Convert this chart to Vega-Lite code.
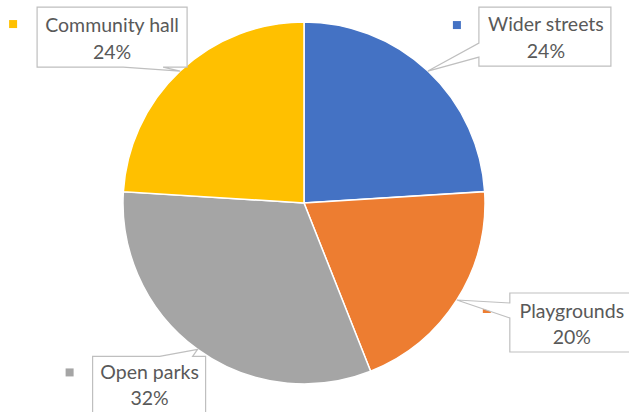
{
  "$schema": "https://vega.github.io/schema/vega-lite/v6.json",
  "width": 608,
  "height": 406,
  "autosize": {"type": "none"},
  "padding": {"left": 0, "top": 0, "right": 21, "bottom": 6},
  "background": "white",
  "config": {"view": {"stroke": null}},
  "data": {
    "values": [
      {"category": "Wider streets", "share": 0.24, "order": 1},
      {"category": "Playgrounds", "share": 0.20, "order": 2},
      {"category": "Open parks", "share": 0.32, "order": 3},
      {"category": "Community hall", "share": 0.24, "order": 4}
    ]
  },
  "transform": [
    {"window": [{"op": "sum", "field": "share", "as": "cum"}], "sort": [{"field": "order"}], "frame": [null, 0]},
    {"calculate": "2*PI*(datum.cum - datum.share/2)", "as": "mid"},
    {"calculate": "sin(datum.mid)", "as": "ax"},
    {"calculate": "cos(datum.mid)", "as": "ay"},
    {"calculate": "[datum.category, format(datum.share, '.0%')]", "as": "label"}
  ],
  "layer": [
    {
      "mark": {"type": "arc", "outerRadius": 181, "stroke": "white", "strokeWidth": 1.5},
      "encoding": {
        "theta": {"field": "share", "type": "quantitative", "stack": true},
        "order": {"field": "order", "type": "quantitative"},
        "color": {
          "field": "category", "type": "nominal",
          "scale": {"domain": ["Wider streets", "Playgrounds", "Open parks", "Community hall"], "range": ["#4472C4", "#ED7D31", "#A5A5A5", "#FFC000"]},
          "legend": null
        }
      }
    },
    {
      "mark": {"type": "point", "filled": true, "opacity": 1, "size": 4, "strokeWidth": 0},
      "encoding": {
        "x": {"field": "ax", "type": "quantitative", "scale": {"domain": [-1.679558, 1.679558], "nice": false, "zero": false}, "axis": null},
        "y": {"field": "ay", "type": "quantitative", "scale": {"domain": [-1.121547, 1.121547], "nice": false, "zero": false}, "axis": null},
        "shape": {
          "field": "category", "type": "nominal",
          "scale": {"domain": ["Wider streets", "Playgrounds", "Open parks", "Community hall"], "range": ["M25,-50h8v8h-8Z", "M26,5h8v8h-8Z", "M-132,19h8v8h-8Z", "M-171,-51h8v8h-8Z"]},
          "legend": null
        },
        "color": {"field": "category", "type": "nominal", "legend": null}
      }
    },
    {
      "mark": {"type": "point", "filled": true, "fill": "white", "stroke": "#BFBFBF", "strokeWidth": 1.2, "opacity": 1, "size": 4},
      "encoding": {
        "x": {"field": "ax", "type": "quantitative", "axis": null},
        "y": {"field": "ay", "type": "quantitative", "axis": null},
        "shape": {
          "field": "category", "type": "nominal",
          "scale": {"domain": ["Wider streets", "Playgrounds", "Open parks", "Community hall"], "range": ["M51,-64H183V-5H51V-14L0,0L51,-28Z", "M53,-7H177V52H53V18L0,0L53,3Z", "M-105,7H-38L0,0L-5,7H8V66H-105Z", "M-143,-64H7V-4H-17L0,0L-57,-4H-143Z"]},
          "legend": null
        }
      }
    },
    {
      "transform": [{"filter": "datum.category === 'Wider streets'"}],
      "mark": {"type": "text", "font": "Lato", "fontSize": 19.5, "fill": "#595959", "align": "center", "baseline": "middle", "lineHeight": 26.5, "dx": 118, "dy": -46},
      "encoding": {
        "x": {"field": "ax", "type": "quantitative", "axis": null},
        "y": {"field": "ay", "type": "quantitative", "axis": null},
        "text": {"field": "label", "type": "nominal"}
      }
    },
    {
      "transform": [{"filter": "datum.category === 'Playgrounds'"}],
      "mark": {"type": "text", "font": "Lato", "fontSize": 19.5, "fill": "#595959", "align": "center", "baseline": "middle", "lineHeight": 26.5, "dx": 115, "dy": 12},
      "encoding": {
        "x": {"field": "ax", "type": "quantitative", "axis": null},
        "y": {"field": "ay", "type": "quantitative", "axis": null},
        "text": {"field": "label", "type": "nominal"}
      }
    },
    {
      "transform": [{"filter": "datum.category === 'Open parks'"}],
      "mark": {"type": "text", "font": "Lato", "fontSize": 19.5, "fill": "#595959", "align": "center", "baseline": "middle", "lineHeight": 26.5, "dx": -48, "dy": 23.5},
      "encoding": {
        "x": {"field": "ax", "type": "quantitative", "axis": null},
        "y": {"field": "ay", "type": "quantitative", "axis": null},
        "text": {"field": "label", "type": "nominal"}
      }
    },
    {
      "transform": [{"filter": "datum.category === 'Community hall'"}],
      "mark": {"type": "text", "font": "Lato", "fontSize": 19.5, "fill": "#595959", "align": "center", "baseline": "middle", "lineHeight": 26.5, "dx": -68, "dy": -45},
      "encoding": {
        "x": {"field": "ax", "type": "quantitative", "axis": null},
        "y": {"field": "ay", "type": "quantitative", "axis": null},
        "text": {"field": "label", "type": "nominal"}
      }
    }
  ],
  "resolve": {"scale": {"shape": "independent"}}
}
